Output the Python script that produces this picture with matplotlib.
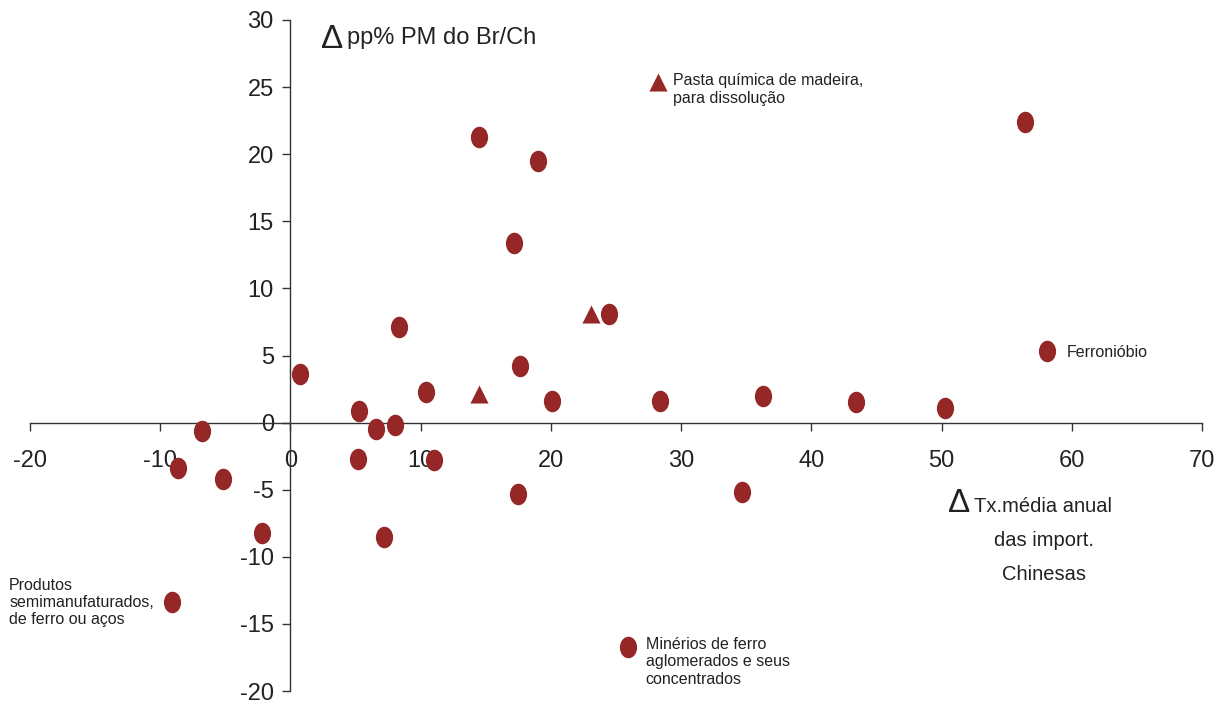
import numpy as np
import matplotlib
matplotlib.use("Agg")
import matplotlib.pyplot as plt
from matplotlib.path import Path
from matplotlib.transforms import Affine2D

plt.rcParams["font.family"] = ["Liberation Sans", "DejaVu Sans"]

# circles: x = change in Chinese import growth, y = change in Brazil's market share (pp)
circ_x = [14.5, 19.0, 56.4, 17.2, 8.3, 24.5, 58.1, 0.7, 17.6, 10.4, 20.1, 28.4,
          36.3, 43.4, 50.3, 5.3, 6.6, 8.0, -6.8, -8.6, -5.2, 5.2, 11.0, -2.2,
          7.2, 17.5, 34.7, -9.1, 25.9]
circ_y = [21.3, 19.5, 22.4, 13.4, 7.1, 8.1, 5.3, 3.6, 4.2, 2.3, 1.6, 1.6,
          2.0, 1.5, 1.1, 0.9, -0.45, -0.2, -0.6, -3.4, -4.2, -2.7, -2.8, -8.2,
          -8.5, -5.3, -5.2, -13.4, -16.7]

# triangles
tri_x = [23.1, 28.2, 14.5]
tri_y = [8.1, 25.4, 2.1]

xticks = [-20, -10, 0, 10, 20, 30, 40, 50, 60, 70]
yticks = [-20, -15, -10, -5, 0, 5, 10, 15, 20, 25, 30]

color = "#952727"
txt = "#222222"

# tall ellipse marker
ellipse = Path.unit_circle().transformed(Affine2D().scale(0.8, 1.0))

fig = plt.figure(figsize=(12.24, 7.04), dpi=100)
ax = fig.add_axes([30 / 1224, 13 / 704, 1172 / 1224, 671 / 704])

ax.scatter(circ_x, circ_y, marker=ellipse, s=15.5 ** 2, color=color, linewidths=0, zorder=3)
ax.scatter(tri_x, tri_y, marker="^", s=13 ** 2, color=color, linewidths=0, zorder=3)

ax.set_xlim(-20, 70)
ax.set_ylim(-20, 30)
ax.set_xticks(xticks)
ax.set_yticks(yticks)
ax.set_xticklabels([str(v) for v in xticks])
ax.set_yticklabels([str(v) for v in yticks])

ax.spines["left"].set_position(("data", 0))
ax.spines["bottom"].set_position(("data", 0))
ax.spines["top"].set_visible(False)
ax.spines["right"].set_visible(False)
for s in ["left", "bottom"]:
    ax.spines[s].set_color("#333333")
    ax.spines[s].set_linewidth(1.0)

ax.tick_params(axis="x", direction="out", length=6, width=1, color="#333333",
               labelsize=17, labelcolor=txt, pad=14)
ax.tick_params(axis="y", direction="out", length=6, width=1, color="#333333",
               labelsize=17, labelcolor=txt, pad=6)
ax.patch.set_visible(False)

ann = dict(fontsize=11.5, color=txt, textcoords="offset points")
ax.annotate("Pasta química de madeira,\npara dissolução", (28.2, 25.4),
            xytext=(11, 6), ha="left", va="top", **ann)
ax.annotate("Ferronióbio", (58.1, 5.3),
            xytext=(14, -1), ha="left", va="center", **ann)
ax.annotate("Produtos\nsemimanufaturados,\nde ferro ou aços", (-9.1, -13.4),
            xytext=(-13, 0), ha="right", va="center", multialignment="left", **ann)
ax.annotate("Minérios de ferro\naglomerados e seus\nconcentrados", (25.9, -16.7),
            xytext=(13, 7), ha="left", va="top", **ann)

# axis titles
fig.text(332 / 1224, 1 - 40 / 704, "Δ", fontsize=24, color=txt,
         ha="center", va="center")
fig.text(347 / 1224, 1 - 38 / 704, "pp% PM do Br/Ch", fontsize=17, color=txt,
         ha="left", va="center")
fig.text(959 / 1224, 1 - 504 / 704, "Δ", fontsize=24, color=txt,
         ha="center", va="center")
fig.text(1112 / 1224, 1 - 507 / 704, "Tx.média anual", fontsize=14.5, color=txt,
         ha="right", va="center")
fig.text(1044 / 1224, 1 - 541 / 704, "das import.", fontsize=14.5, color=txt,
         ha="center", va="center")
fig.text(1044 / 1224, 1 - 575 / 704, "Chinesas", fontsize=14.5, color=txt,
         ha="center", va="center")

fig.savefig("out.png", dpi=100)
